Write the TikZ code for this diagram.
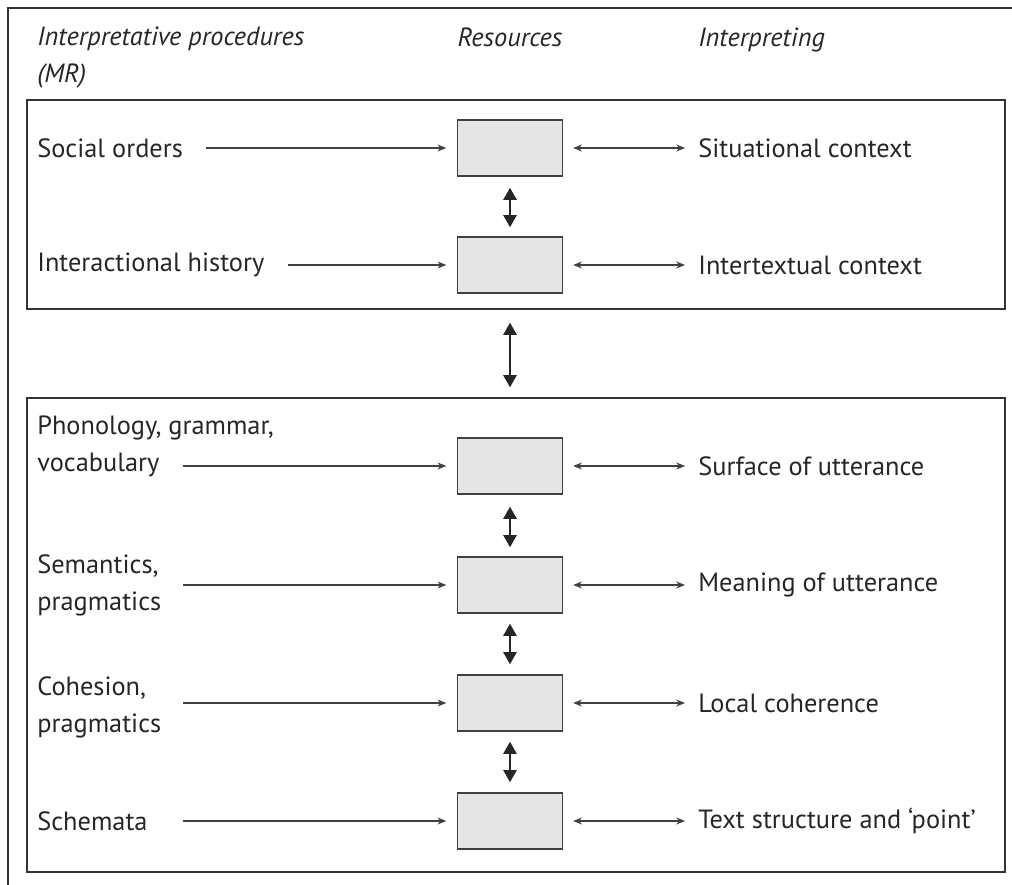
\documentclass[tikz,border=0pt]{standalone}
\usepackage{fontspec}
\setmainfont{PT Sans}
\usetikzlibrary{arrows.meta,calc}

\begin{document}
\begin{tikzpicture}[x=0.02cm, y=-0.02cm,
    res/.style={draw=black!75, fill=black!10, line width=0.8pt,
        minimum width=2.1cm, minimum height=1.12cm, inner sep=0pt},
    frame/.style={draw=black!80, line width=0.8pt, inner sep=0pt},
    lbl/.style={anchor=west, align=left, inner sep=0pt, text=black!85,
        font=\fontsize{15}{21}\selectfont},
    hd/.style={lbl, font=\fontsize{15}{21}\selectfont\itshape},
    feed/.style={draw=black!75, line width=0.6pt, -{Stealth[length=5pt,width=4pt]}},
    both/.style={draw=black!75, line width=0.6pt,
        {Stealth[length=5pt,width=4pt]}-{Stealth[length=5pt,width=4pt]}},
    link/.style={draw=black!85, line width=1.4pt,
        {Triangle[length=7pt,width=7.5pt]}-{Triangle[length=7pt,width=7.5pt]}}]
    \useasboundingbox (0,0) rectangle (1012,885);

    % outer frame and the two groups
    \draw[frame] (8,885) -- (8,8) -- (1012,8);
    \node[frame, minimum width=19.56cm, minimum height=4.18cm] (upper) at (516,204.5) {};
    \node[frame, minimum width=19.56cm, minimum height=9.48cm] (lower) at (516,635) {};

    % column heads
    \node[hd] (hproc) at (37,58) {Interpretative procedures\\(MR)};
    \node[hd, anchor=base] (hres) at (510,47) {Resources};
    \node[hd, anchor=base west] (hint) at (698,47) {Interpreting};

    % resources
    \node[res] (r1) at (510,148) {};
    \node[res] (r2) at (510,265) {};
    \node[res] (r3) at (510,466) {};
    \node[res] (r4) at (510,585) {};
    \node[res] (r5) at (510,703) {};
    \node[res] (r6) at (510,821) {};

    % procedures
    \node[lbl] (so) at (37,148) {Social orders};
    \node[lbl] (ih) at (37,265) {Interactional history};
    \node[lbl] (pg) at (37,446) {Phonology, grammar,\\vocabulary};
    \node[lbl] (sp) at (37,585) {Semantics,\\pragmatics};
    \node[lbl] (cp) at (37,707) {Cohesion,\\pragmatics};
    \node[lbl] (sc) at (37,821) {Schemata};

    \coordinate (pg-in) at (183,466);
    \coordinate (sp-in) at (183,585);
    \coordinate (cp-in) at (183,703);
    \coordinate (sc-in) at (183,821);

    % interpreting
    \node[lbl] (sit) at (698,148) {Situational context};
    \node[lbl] (itc) at (698,265) {Intertextual context};
    \node[lbl] (sur) at (698,466) {Surface of utterance};
    \node[lbl] (mea) at (698,585) {Meaning of utterance};
    \node[lbl] (loc) at (698,703) {Local coherence};
    \node[lbl] (tsp) at (698,821) {Text structure and ‘point’};

    \draw[feed] ([xshift=0.46cm]so.east) -- ([xshift=-0.21cm]r1.west);
    \draw[feed] ([xshift=0.46cm]ih.east) -- ([xshift=-0.21cm]r2.west);
    \draw[feed] (pg-in) -- ([xshift=-0.21cm]r3.west);
    \draw[feed] (sp-in) -- ([xshift=-0.21cm]r4.west);
    \draw[feed] (cp-in) -- ([xshift=-0.21cm]r5.west);
    \draw[feed] (sc-in) -- ([xshift=-0.21cm]r6.west);

    \draw[both] ([xshift=0.2cm]r1.east) -- ([xshift=-0.26cm]sit.west);
    \draw[both] ([xshift=0.2cm]r2.east) -- ([xshift=-0.26cm]itc.west);
    \draw[both] ([xshift=0.2cm]r3.east) -- ([xshift=-0.26cm]sur.west);
    \draw[both] ([xshift=0.2cm]r4.east) -- ([xshift=-0.26cm]mea.west);
    \draw[both] ([xshift=0.2cm]r5.east) -- ([xshift=-0.26cm]loc.west);
    \draw[both] ([xshift=0.2cm]r6.east) -- ([xshift=-0.26cm]tsp.west);

    \draw[link] ([yshift=-0.22cm]r1.south) -- ([yshift=0.18cm]r2.north);
    \draw[link] ($(upper.south -| r2)+(0,13)$) -- ($(lower.north -| r3)+(0,-10)$);
    \draw[link] ([yshift=-0.24cm]r3.south) -- ([yshift=0.18cm]r4.north);
    \draw[link] ([yshift=-0.2cm]r4.south) -- ([yshift=0.2cm]r5.north);
    \draw[link] ([yshift=-0.2cm]r5.south) -- ([yshift=0.2cm]r6.north);
\end{tikzpicture}
\end{document}
